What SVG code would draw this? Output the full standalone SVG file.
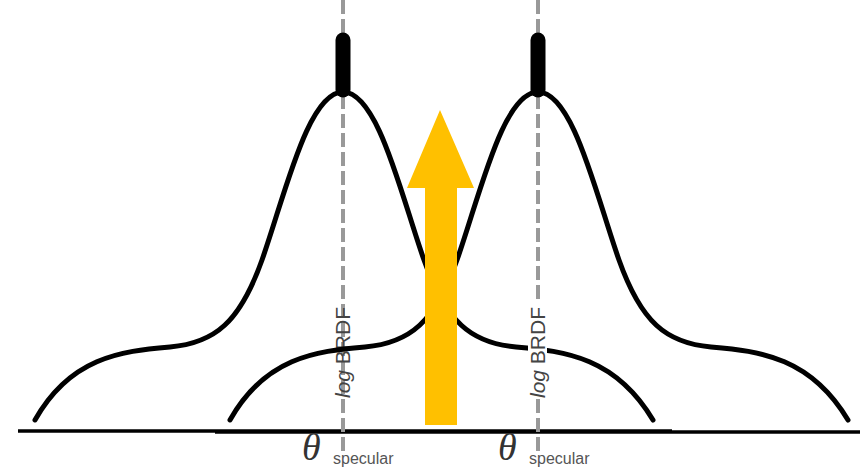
<svg xmlns="http://www.w3.org/2000/svg" width="860" height="468" viewBox="0 0 860 468">
<style>
.axis{stroke:#000;stroke-width:3.5;fill:none}
.guide{stroke:#999;stroke-width:4;stroke-dasharray:14 5;fill:none}
.curve{stroke:#000;stroke-width:5;fill:none;stroke-linecap:round}
.spike{stroke:#000;stroke-width:15;stroke-linecap:round}
.ylab{font-family:"Liberation Sans",Arial,sans-serif;font-size:21px;fill:#444}
.theta{font-family:"Liberation Serif","Times New Roman",serif;font-style:italic;font-size:38px;fill:#333}
.sub{font-family:"Liberation Sans",Arial,sans-serif;font-size:16px;fill:#555}
</style>
<rect width="860" height="468" fill="#fff"/>
<g id="axes">
<line class="axis" x1="18" y1="431" x2="672" y2="431"/>
<line class="axis" x1="215" y1="432" x2="860" y2="432"/>
</g>
<g id="guide-left">
<line class="guide" x1="343" y1="0" x2="343" y2="452"/>
<text class="ylab" transform="translate(350,398) rotate(-90)"><tspan font-style="italic">log</tspan> BRDF</text>
</g>
<g id="guide-right">
<line class="guide" x1="538" y1="0" x2="538" y2="452"/>
</g>
<g id="connectors">
<path id="curve-left" class="curve" d="M35,420 C70,358 120,351 170,347 C215,343 240,322 262,260 C285,195 308,92 343,92 C378,92 401,195 424,260 C446,322 471,343 516,347 C566,351 616,358 653,420"/>
<path id="curve-right" class="curve" d="M230,420 C265,358 315,351 365,347 C410,343 435,322 457,260 C480,195 503,92 538,92 C573,92 596,195 619,260 C641,322 666,343 711,347 C761,351 811,358 848,420"/>
</g>
<g id="spike-left"><line class="spike" x1="343" y1="40" x2="343" y2="90"/></g>
<g id="spike-right"><line class="spike" x1="538" y1="40" x2="538" y2="90"/></g>
<g id="label-right">
<rect x="528" y="303" width="19" height="96" fill="#fff"/>
<text class="ylab" transform="translate(545,398) rotate(-90)"><tspan font-style="italic">log</tspan> BRDF</text>
</g>
<g id="arrow">
<polygon points="425,425 457,425 457,188 474,188 440,110 407,188 425,188" fill="#FFC000"/>
</g>
<g id="theta-left">
<text class="theta" x="302" y="460">θ</text>
<text class="sub" x="333" y="464">specular</text>
</g>
<g id="theta-right">
<text class="theta" x="498" y="460">θ</text>
<text class="sub" x="529" y="464">specular</text>
</g>
</svg>
